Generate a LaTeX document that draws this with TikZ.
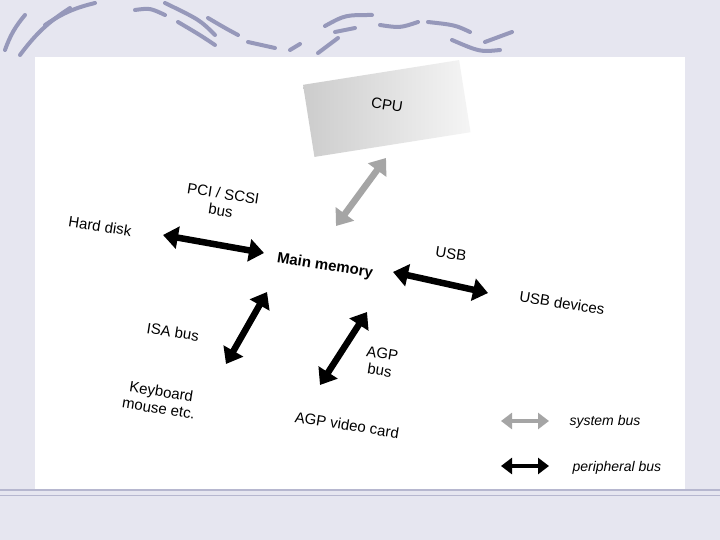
\documentclass[tikz,border=0pt]{standalone}
\usepackage{fontspec}
\setmainfont{Liberation Sans}
\usetikzlibrary{arrows.meta}
\definecolor{lavender}{RGB}{230,230,240}
\definecolor{swirl}{RGB}{150,152,186}
\definecolor{sysgray}{RGB}{165,165,165}
\tikzset{
  lbl/.style={font=\fontsize{15}{17}\selectfont, align=center, rotate=-9, inner sep=1pt},
  bus/.style={line width=6.5pt, {Triangle[length=15pt,width=22pt]}-{Triangle[length=15pt,width=22pt]}},
  sysbus/.style={bus, draw=sysgray},
  perbus/.style={bus, draw=black},
  legbus/.style={line width=4pt, {Triangle[length=11pt,width=16pt]}-{Triangle[length=11pt,width=16pt]}},
  swirly/.style={draw=swirl, line width=4pt, line cap=round}
}
\begin{document}
\begin{tikzpicture}[x=1pt,y=-1pt]
  \useasboundingbox (0,0) rectangle (720,540);
  \fill[lavender] (0,0) rectangle (720,540);
  % decorative swirls
  \draw[swirly] (5,50) to[bend left=10] (25,15);
  \draw[swirly] (20,55) to[bend left=10] (70,8);
  \draw[swirly] (45,25) to[bend left=10] (95,3);
  \draw[swirly] (135,10) .. controls (150,8) .. (165,15);
  \draw[swirly] (165,3) .. controls (200,20) .. (215,35);
  \draw[swirly] (178,22) .. controls (200,35) .. (215,45);
  \draw[swirly] (208,18) .. controls (225,28) .. (238,35);
  \draw[swirly] (248,42) -- (275,48);
  \draw[swirly] (290,50) -- (300,44);
  \draw[swirly] (318,53) -- (338,38);
  \draw[swirly] (325,26) .. controls (345,15) .. (372,15);
  \draw[swirly] (335,32) -- (355,28);
  \draw[swirly] (380,25) .. controls (400,28) .. (418,22);
  \draw[swirly] (428,22) .. controls (455,25) .. (470,32);
  \draw[swirly] (452,40) .. controls (480,52) .. (500,50);
  \draw[swirly] (485,42) -- (512,32);
  % panel
  \fill[white] (35,57) rectangle (685,490);
  \draw[swirl!70, line width=1.5pt] (0,490) -- (720,490);
  \draw[swirl!70, line width=1pt] (0,495) -- (720,495);
  % CPU slab
  \shade[rotate around={9:(387,110)}, left color=gray!40, right color=gray!8]
    (308,72) rectangle (466,145);
  \node[lbl] (cpu) at (387,105) {CPU};
  \node[lbl] (pci) at (222,202) {PCI / SCSI\\bus};
  \node[lbl] (disk) at (100,226) {Hard disk};
  \node[lbl, font=\fontsize{15}{17}\selectfont\bfseries] (mem) at (325,266) {Main memory};
  \node[lbl] (usb) at (451,254) {USB};
  \node[lbl] (usbdev) at (562,303) {USB devices};
  \node[lbl] (isa) at (173,332) {ISA bus};
  \node[lbl] (kbd) at (160,400) {Keyboard\\mouse etc.};
  \node[lbl] (agp) at (381,362) {AGP\\bus};
  \node[lbl] (agpcard) at (347,425) {AGP video card};
  \node[font=\fontsize{14}{16}\selectfont\itshape, anchor=west] (syslbl) at (566,422) {system bus};
  \node[font=\fontsize{14}{16}\selectfont\itshape, anchor=west] (perlbl) at (569,468) {peripheral bus};
  % bus ends
  \coordinate (cpuA) at (386,158);   \coordinate (cpuB) at (336,226);
  \coordinate (diskA) at (163,235);  \coordinate (diskB) at (264,253);
  \coordinate (usbA) at (393,272);   \coordinate (usbB) at (488,293);
  \coordinate (isaA) at (267,292);   \coordinate (isaB) at (226,364);
  \coordinate (agpA) at (367,312);   \coordinate (agpB) at (320,385);
  \coordinate (sysA) at (501,421);   \coordinate (sysB) at (549,421);
  \coordinate (perA) at (501,466);   \coordinate (perB) at (549,466);
  \draw[sysbus] (cpuA) -- (cpuB);
  \draw[perbus] (diskA) -- (diskB);
  \draw[perbus] (usbA) -- (usbB);
  \draw[perbus] (isaA) -- (isaB);
  \draw[perbus] (agpA) -- (agpB);
  \draw[legbus, draw=sysgray] (sysA) -- (sysB);
  \draw[legbus, draw=black] (perA) -- (perB);
\end{tikzpicture}
\end{document}
